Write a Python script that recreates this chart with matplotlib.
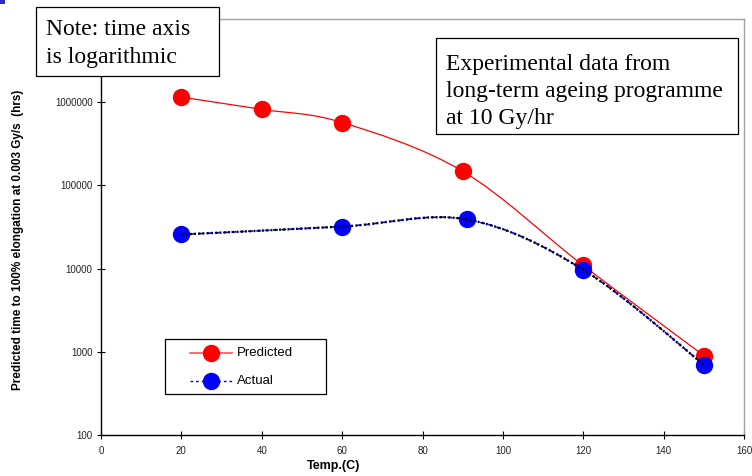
import numpy as np
import matplotlib
matplotlib.use("Agg")
import matplotlib.pyplot as plt
from matplotlib.path import Path
from matplotlib.patches import PathPatch, Rectangle
from matplotlib.lines import Line2D
from matplotlib.ticker import FixedLocator, NullLocator

# ageing data (hours to 100% elongation at 0.003 Gy/s)
temp_pred = [20, 40, 60, 90, 120, 150]
hours_pred = [1150000, 820000, 570000, 148000, 10900, 900]
temp_act = [20, 60, 91, 120, 150]
hours_act = [25700, 32000, 39000, 9700, 700]

x_ticks = [0, 20, 40, 60, 80, 100, 120, 140, 160]
y_ticks = [100, 1000, 10000, 100000, 1000000, 10000000]
y_tick_labels = ["100", "1000", "10000", "100000", "1000000", ""]

W, H = 752, 476


def fx(px):
    return px / W


def fy(py):
    return 1 - py / H


def smooth_path(x, y):
    # bezier through the points, control points taken in (x, log y) space
    pts = np.column_stack([np.asarray(x, float), np.log10(y)])
    n = len(pts)
    verts = [pts[0]]
    codes = [Path.MOVETO]
    for i in range(n - 1):
        p0 = pts[max(i - 1, 0)]
        p1 = pts[i]
        p2 = pts[i + 1]
        p3 = pts[min(i + 2, n - 1)]
        c1 = p1 + (p2 - p0) / 6
        c2 = p2 - (p3 - p1) / 6
        verts += [c1, c2, p2]
        codes += [Path.CURVE4] * 3
    verts = np.array(verts)
    verts[:, 1] = 10 ** verts[:, 1]
    return Path(verts, codes)


fig = plt.figure(figsize=(W / 100, H / 100), dpi=100)
ax = fig.add_axes([fx(101), fy(435), fx(744) - fx(101), fy(19) - fy(435)])
ax.set_yscale("log")
ax.set_xlim(0, 160)
ax.set_ylim(100, 10000000)

# predicted
ax.add_patch(PathPatch(smooth_path(temp_pred, hours_pred), fill=False,
                       edgecolor="#ff0000", lw=0.9, transform=ax.transData, zorder=2))
ax.plot(temp_pred, hours_pred, ls="none", marker="o", ms=11.5, color="#ff0000",
        mec="#ff0000", zorder=3)

# actual: blue dashes under a black dotted line
ax.add_patch(PathPatch(smooth_path(temp_act, hours_act), fill=False,
                       edgecolor="#0000ff", lw=1.2, ls=(0, (3, 2)),
                       transform=ax.transData, zorder=4))
ax.plot(temp_act, hours_act, ls="none", marker="o", ms=11.5, color="#0000ff",
        mec="#0000ff", zorder=5)
ax.add_patch(PathPatch(smooth_path(temp_act, hours_act), fill=False,
                       edgecolor="black", lw=1.7, ls=(0, (0.8, 1.0)),
                       transform=ax.transData, zorder=6))

ax.xaxis.set_major_locator(FixedLocator(x_ticks))
ax.set_xticklabels([str(t) for t in x_ticks])
ax.yaxis.set_major_locator(FixedLocator(y_ticks))
ax.yaxis.set_minor_locator(NullLocator())
ax.set_yticklabels(y_tick_labels)
ax.tick_params(direction="inout", length=6, width=0.8, labelsize=7,
               labelcolor="#222222", labelfontfamily="Liberation Sans")
ax.tick_params(axis="x", pad=5)
ax.tick_params(axis="y", pad=3)

for s in ("left", "bottom"):
    ax.spines[s].set_color("black")
    ax.spines[s].set_linewidth(1.0)
for s in ("top", "right"):
    ax.spines[s].set_color("#a0a0a0")
    ax.spines[s].set_linewidth(1.0)

fig.text(fx(18), fy(240), "Predicted time to 100% elongation at 0.003 Gy/s  (hrs)",
         rotation=90, ha="center", va="center", fontsize=8.5, fontweight="bold",
         family="Liberation Sans")
fig.text(fx(334), fy(466), "Temp.(C)", ha="center", va="center", fontsize=9,
         fontweight="bold", family="Liberation Sans")

# legend box
fig.patches.append(Rectangle((fx(165), fy(394)), fx(326) - fx(165), fy(339) - fy(394),
                             transform=fig.transFigure, facecolor="white",
                             edgecolor="black", lw=0.9, zorder=5))
legend_rows = [
    ("Predicted", 353, dict(color="#ff5050", lw=1.2, ls="-"), "#ff0000"),
    ("Actual", 381, dict(color="#0000ff", lw=1.0, ls=(0, (2, 2))), "#0000ff"),
]
for label, ly, line_style, mcolor in legend_rows:
    fig.add_artist(Line2D([fx(190), fx(232)], [fy(ly), fy(ly)],
                          transform=fig.transFigure, zorder=6, **line_style))
    fig.add_artist(Line2D([fx(211)], [fy(ly)], transform=fig.transFigure, ls="none",
                          marker="o", ms=11.5, mfc=mcolor, mec=mcolor, zorder=7))
    fig.text(fx(237), fy(ly), label, va="center", ha="left", fontsize=9.5,
             family="Liberation Sans", zorder=7)

# note boxes
fig.patches.append(Rectangle((fx(36), fy(76)), fx(219) - fx(36), fy(7) - fy(76),
                             transform=fig.transFigure, facecolor="white",
                             edgecolor="black", lw=0.9, zorder=5))
fig.text(fx(46), fy(35), "Note: time axis", fontsize=17, family="Liberation Serif",
         va="baseline", zorder=6)
fig.text(fx(46), fy(63), "is logarithmic", fontsize=17, family="Liberation Serif",
         va="baseline", zorder=6)

fig.patches.append(Rectangle((fx(436), fy(134)), fx(738) - fx(436), fy(38) - fy(134),
                             transform=fig.transFigure, facecolor="white",
                             edgecolor="black", lw=0.9, zorder=5))
for i, line in enumerate(["Experimental data from", "long-term ageing programme",
                          "at 10 Gy/hr"]):
    fig.text(fx(446), fy(70 + 27 * i), line, fontsize=17, family="Liberation Serif",
             va="baseline", zorder=6)

# small slide marker in the corner
fig.patches.append(Rectangle((0, fy(4)), fx(5), fy(0) - fy(4),
                             transform=fig.transFigure, facecolor="#2b2bd0",
                             edgecolor="none", zorder=5))

fig.savefig("out.png", dpi=100)
